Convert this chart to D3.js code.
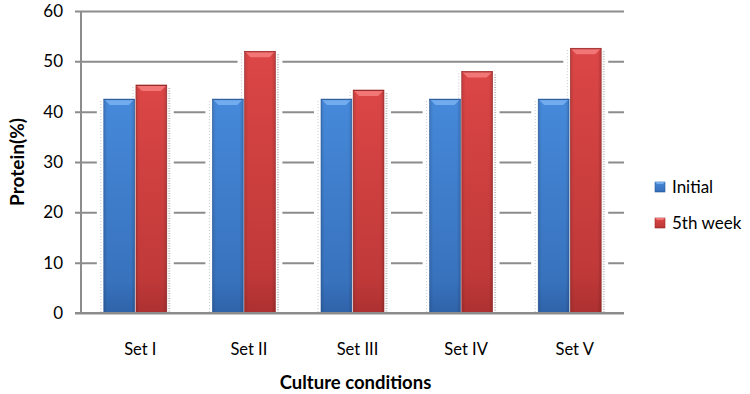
<!DOCTYPE html>
<html>
<head>
<meta charset="utf-8">
<script src="https://cdn.jsdelivr.net/npm/d3@7/dist/d3.min.js"></script>
<style>
  body { margin: 0; background: #fff; }
  text { font-family: Lato, "Open Sans", sans-serif; fill: #000; }
</style>
</head>
<body>
<div id="chart"></div>
<script>
const categories = ['Set I', 'Set II', 'Set III', 'Set IV', 'Set V']
const seriesNames = ['Initial', '5th week']
const initialValues = [42.5, 42.5, 42.5, 42.5, 42.5]
const week5Values = [45.3, 52.0, 44.3, 48.0, 52.6]
const yTicks = [0, 10, 20, 30, 40, 50, 60]

const width = 750, height = 394
const margin = { top: 11, left: 81, right: 126, bottom: 81 }
const innerW = width - margin.left - margin.right
const innerH = height - margin.top - margin.bottom

const svg = d3.select('#chart').append('svg')
    .attr('width', width)
    .attr('height', height)

const defs = svg.append('defs')
const palette = [
    { main: ['#4689da', '#2f63a9'], bevel: '#72acee', edge: '#2a5a9c' },
    { main: ['#dc4646', '#ad3030'], bevel: '#f27676', edge: '#9a2a2a' }
]
palette.forEach((p, i) => {
    const g = defs.append('linearGradient').attr('id', `grad${i}`)
        .attr('x1', 0).attr('y1', 0).attr('x2', 0).attr('y2', 1)
    g.append('stop').attr('offset', '0%').attr('stop-color', p.main[0])
    g.append('stop').attr('offset', '85%').attr('stop-color', d3.interpolateRgb(p.main[0], p.main[1])(0.6))
    g.append('stop').attr('offset', '100%').attr('stop-color', p.main[1])
    const h = defs.append('linearGradient').attr('id', `side${i}`)
    h.append('stop').attr('offset', '0%').attr('stop-color', '#000').attr('stop-opacity', 0.12)
    h.append('stop').attr('offset', '12%').attr('stop-color', '#000').attr('stop-opacity', 0)
    h.append('stop').attr('offset', '88%').attr('stop-color', '#000').attr('stop-opacity', 0)
    h.append('stop').attr('offset', '100%').attr('stop-color', '#000').attr('stop-opacity', 0.15)
})

const chart = svg.append('g').attr('transform', `translate(${margin.left}, ${margin.top})`)

const xScale = d3.scaleBand().domain(categories).range([0, innerW]).paddingInner(0.42).paddingOuter(0.21)
const xSub = d3.scaleBand().domain(seriesNames).range([0, xScale.bandwidth()]).paddingInner(0.04)
const yScale = d3.scaleLinear().domain([0, 60]).range([innerH, 0])

// gridlines + ticks
chart.append('g')
    .call(d3.axisLeft(yScale).tickValues(yTicks).tickSize(-innerW - 6).tickFormat(''))
    .attr('transform', 'translate(-6,0)')
    .call(g => g.select('.domain').remove())
    .selectAll('line').attr('stroke', '#8c8c8c').attr('stroke-width', 2)

const data = categories.map((c, i) => ({ cat: c, vals: [initialValues[i], week5Values[i]] }))

const groups = chart.selectAll('.grp').data(data).enter().append('g')
    .attr('class', 'grp')
    .attr('transform', d => `translate(${xScale(d.cat)},0)`)

// white halos that break the gridlines around each bar
groups.selectAll('.halo').data(d => d.vals).enter().append('rect')
    .attr('x', (d, j) => xSub(seriesNames[j]) - 7)
    .attr('y', d => yScale(d))
    .attr('width', xSub.bandwidth() + 14)
    .attr('height', d => innerH - yScale(d))
    .attr('fill', '#fff')

// dotted shadows at outer edges
groups.each(function (d) {
    const g = d3.select(this)
    const top0 = yScale(d.vals[0]), top1 = yScale(d.vals[1])
    g.append('line').attr('x1', -3).attr('x2', -3).attr('y1', top0 + 2).attr('y2', innerH)
        .attr('stroke', '#c8c8c8').attr('stroke-dasharray', '1,2')
    const xr = xSub(seriesNames[1]) + xSub.bandwidth() + 2.5
    g.append('line').attr('x1', xr).attr('x2', xr).attr('y1', top1 + 3).attr('y2', innerH)
        .attr('stroke', '#bdbdbd').attr('stroke-width', 2).attr('stroke-dasharray', '1,1.5')
    const xm = xSub(seriesNames[1]) - 3
    g.append('line').attr('x1', xm).attr('x2', xm).attr('y1', top1 + 2).attr('y2', top0)
        .attr('stroke', '#c8c8c8').attr('stroke-dasharray', '1,2')
})

groups.selectAll('.bar').data(d => d.vals).enter().append('g')
    .attr('class', 'bar')
    .each(function (v, j) {
        const g = d3.select(this)
        const x = xSub(seriesNames[j]), w = xSub.bandwidth()
        const y = yScale(v), h = innerH - y
        const p = palette[j]
        g.append('rect').attr('x', x).attr('y', y).attr('width', w).attr('height', h)
            .attr('fill', `url(#grad${j})`).attr('stroke', p.edge).attr('stroke-width', 0.6)
        g.append('rect').attr('x', x).attr('y', y).attr('width', w).attr('height', h)
            .attr('fill', `url(#side${j})`)
        g.append('path')
            .attr('d', `M${x},${y} L${x + w},${y} L${x + w - 6},${y + 6} L${x + 6},${y + 6} Z`)
            .attr('fill', p.bevel)
        g.append('line').attr('x1', x).attr('x2', x + w).attr('y1', y + 0.5).attr('y2', y + 0.5)
            .attr('stroke', p.edge).attr('stroke-width', 1)
    })

// axes
chart.append('line').attr('x1', 0).attr('x2', 0).attr('y1', 0).attr('y2', innerH)
    .attr('stroke', '#8c8c8c').attr('stroke-width', 2)
chart.append('line').attr('x1', -6).attr('x2', innerW).attr('y1', innerH).attr('y2', innerH)
    .attr('stroke', '#8c8c8c').attr('stroke-width', 2)

chart.selectAll('.ylab').data(yTicks).enter().append('text')
    .attr('x', -18).attr('y', d => yScale(d)).attr('dy', '0.35em')
    .attr('text-anchor', 'end').attr('font-size', 17).text(d => d)

chart.selectAll('.xlab').data(categories).enter().append('text')
    .attr('x', d => xScale(d) + xScale.bandwidth() / 2 + 5)
    .attr('y', innerH + 42)
    .attr('text-anchor', 'middle').attr('font-size', 16.5).text(d => d)

svg.append('text')
    .attr('x', margin.left + innerW / 2 + 3).attr('y', 389)
    .attr('text-anchor', 'middle').attr('font-size', 18.5).attr('font-weight', 'bold')
    .text('Culture conditions')

svg.append('text')
    .attr('transform', `translate(24, ${margin.top + innerH / 2}) rotate(-90)`)
    .attr('text-anchor', 'middle').attr('font-size', 19).attr('font-weight', 'bold')
    .text('Protein(%)')

// legend
const legend = svg.append('g').attr('transform', 'translate(655, 187)')
seriesNames.forEach((s, i) => {
    const g = legend.append('g').attr('transform', `translate(0, ${i * 36})`)
    const p = palette[i]
    g.append('rect').attr('x', 0).attr('y', -5).attr('width', 10).attr('height', 10)
        .attr('fill', `url(#grad${i})`).attr('stroke', p.edge).attr('stroke-width', 0.6)
    g.append('path').attr('d', 'M0,-5 L10,-5 L8,-3 L2,-3 Z').attr('fill', p.bevel)
    g.append('text').attr('x', 17).attr('y', 0).attr('dy', '0.35em')
        .attr('font-size', 17).text(s)
})
</script>
</body>
</html>
